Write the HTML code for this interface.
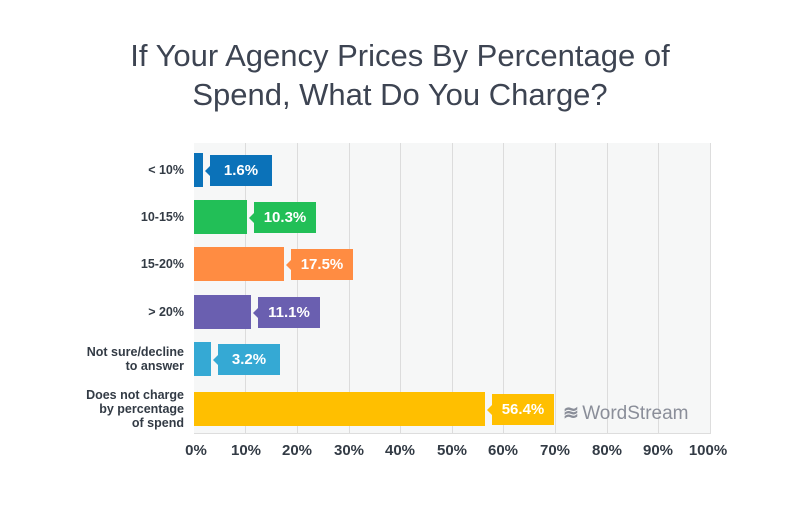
<!DOCTYPE html><html><head><style>
body{margin:0;background:#fff;font-family:"Liberation Sans",sans-serif}
#c{position:relative;width:800px;height:506px;overflow:hidden}
.t{position:absolute;left:0;width:800px;text-align:center;font-size:31px;color:#3d4452}
.plot{position:absolute;left:194px;top:143px;width:516px;height:290px;background:#f6f7f7;border-right:1px solid #ddd;border-bottom:1px solid #ddd}
.g{position:absolute;top:143px;height:290px;width:1px;background:#dcdcdc}
.b{position:absolute;left:194px;height:34px}
.l{position:absolute;height:31px;width:62px;color:#fff;font-weight:bold;font-size:15px;line-height:31px;text-align:center}
.l:before{content:"";position:absolute;left:-5px;top:11px;border-right:5px solid;border-right-color:inherit;border-top:5px solid transparent;border-bottom:5px solid transparent}
.y{position:absolute;right:616px;text-align:right;font-weight:bold;font-size:12.5px;color:#333b45;line-height:14px}
.x{position:absolute;top:442px;width:60px;margin-left:-30px;text-align:center;font-weight:bold;font-size:15px;color:#333b45}
</style></head><body><div id="c">
<div class="t" style="top:38px">If Your Agency Prices By Percentage of</div>
<div class="t" style="top:77px">Spend, What Do You Charge?</div>
<div class="plot"></div>
<div class="g" style="left:245px"></div><div class="g" style="left:297px"></div><div class="g" style="left:349px"></div><div class="g" style="left:400px"></div><div class="g" style="left:452px"></div><div class="g" style="left:503px"></div><div class="g" style="left:555px"></div><div class="g" style="left:607px"></div><div class="g" style="left:658px"></div>
<div class="b" style="top:153px;width:9px;background:#0b72b9"></div><div class="l" style="top:155px;left:210px;background:#0b72b9;border-color:#0b72b9">1.6%</div>
<div class="b" style="top:200px;width:53px;background:#22bf57"></div><div class="l" style="top:202px;left:254px;background:#22bf57;border-color:#22bf57">10.3%</div>
<div class="b" style="top:247px;width:90px;background:#ff8c42"></div><div class="l" style="top:249px;left:291px;background:#ff8c42;border-color:#ff8c42">17.5%</div>
<div class="b" style="top:295px;width:57px;background:#6a5fb0"></div><div class="l" style="top:297px;left:258px;background:#6a5fb0;border-color:#6a5fb0">11.1%</div>
<div class="b" style="top:342px;width:17px;background:#35a9d4"></div><div class="l" style="top:344px;left:218px;background:#35a9d4;border-color:#35a9d4">3.2%</div>
<div class="b" style="top:392px;width:291px;background:#ffbf00"></div><div class="l" style="top:394px;left:492px;background:#ffbf00;border-color:#ffbf00">56.4%</div>
<div style="position:absolute;left:563px;top:402px;font-size:19px;color:#8a8e99"><span style="letter-spacing:-2px;font-weight:bold">≋</span> WordStream</div>
<div class="y" style="top:163px">&lt; 10%</div>
<div class="y" style="top:210px">10-15%</div>
<div class="y" style="top:257px">15-20%</div>
<div class="y" style="top:305px">&gt; 20%</div>
<div class="y" style="top:345px">Not sure/decline<br>to answer</div>
<div class="y" style="top:388px">Does not charge<br>by percentage<br>of spend</div>
<div class="x" style="left:196px">0%</div><div class="x" style="left:246px">10%</div><div class="x" style="left:297px">20%</div><div class="x" style="left:349px">30%</div><div class="x" style="left:400px">40%</div><div class="x" style="left:452px">50%</div><div class="x" style="left:503px">60%</div><div class="x" style="left:555px">70%</div><div class="x" style="left:607px">80%</div><div class="x" style="left:658px">90%</div><div class="x" style="left:708px">100%</div>
</div></body></html>
